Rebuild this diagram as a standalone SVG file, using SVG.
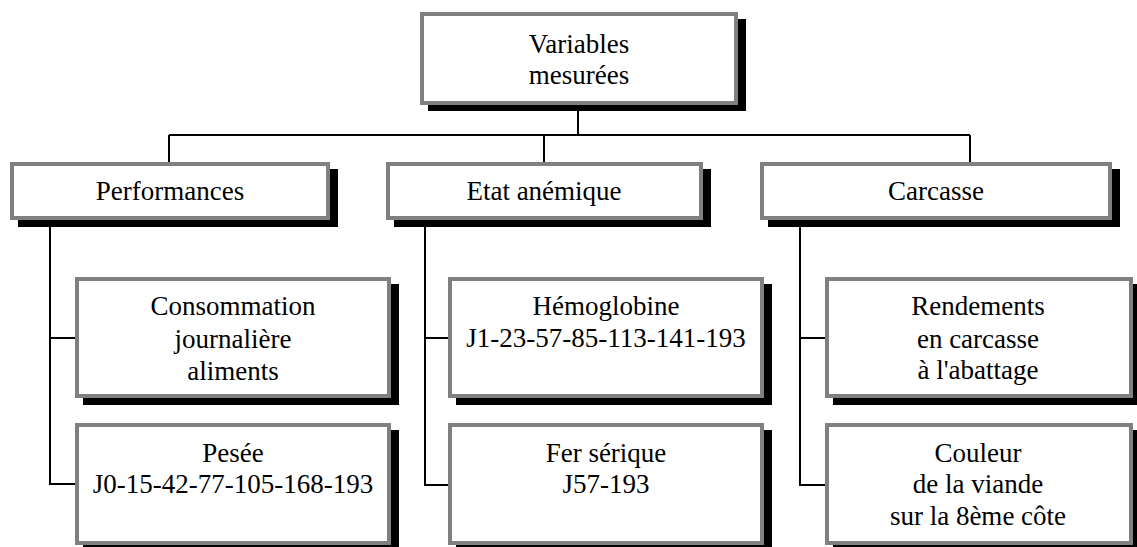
<svg xmlns="http://www.w3.org/2000/svg" width="1137" height="547" viewBox="0 0 1137 547">
<style>
.sh{fill:#000}
.bx{fill:#fff;stroke:#808080;stroke-width:4}
.t{font-family:'Liberation Serif','DejaVu Serif','Times New Roman',Times,serif;font-size:27px;fill:#000;text-anchor:middle}
.c{stroke:#000;stroke-width:2;fill:none}
</style>
<rect width="1137" height="547" fill="#fff"/>
<g id="connectors">
<path class="c" d="M578 105V135M169 135H970M169 135V162M544 135V162M970 135V162"/>
<path class="c" d="M50 226V484H75M50 338H75"/>
<path class="c" d="M425 226V485H450M425 338H450"/>
<path class="c" d="M800 226V485H825M800 338H825"/>
</g>
<g id="n-top">
<rect class="sh" x="428" y="19" width="318" height="92"/>
<rect class="bx" x="422" y="14" width="314" height="89"/>
<text class="t" font-family="Liberation Serif, serif" x="579" y="53">Variables</text>
<text class="t" font-family="Liberation Serif, serif" x="579" y="84">mesurées</text>
</g>
<g id="n-perf">
<rect class="sh" x="18" y="169" width="320" height="58"/>
<rect class="bx" x="12" y="164" width="316" height="54"/>
<text class="t" x="170" y="200">Performances</text>
</g>
<g id="n-etat">
<rect class="sh" x="394" y="169" width="317" height="58"/>
<rect class="bx" x="388" y="164" width="313" height="54"/>
<text class="t" x="544" y="200">Etat anémique</text>
</g>
<g id="n-carc">
<rect class="sh" x="768" y="169" width="352" height="58"/>
<rect class="bx" x="762" y="164" width="348" height="54"/>
<text class="t" x="936" y="200">Carcasse</text>
</g>
<g id="n-cons">
<rect class="sh" x="83" y="284" width="316" height="121"/>
<rect class="bx" x="77" y="279" width="312" height="117"/>
<text class="t" x="233" y="315">Consommation</text>
<text class="t" x="233" y="348">journalière</text>
<text class="t" x="233" y="380">aliments</text>
</g>
<g id="n-hemo">
<rect class="sh" x="456" y="284" width="316" height="121"/>
<rect class="bx" x="450" y="279" width="312" height="117"/>
<text class="t" x="606" y="315">Hémoglobine</text>
<text class="t" x="606" y="347">J1-23-57-85-113-141-193</text>
</g>
<g id="n-rend">
<rect class="sh" x="833" y="284" width="312" height="121"/>
<rect class="bx" x="827" y="279" width="304" height="117"/>
<text class="t" x="978" y="315">Rendements</text>
<text class="t" x="978" y="348">en carcasse</text>
<text class="t" x="978" y="379">à l'abattage</text>
</g>
<g id="n-pesee">
<rect class="sh" x="83" y="430" width="316" height="121"/>
<rect class="bx" x="77" y="425" width="312" height="118"/>
<text class="t" x="233" y="462">Pesée</text>
<text class="t" x="233" y="493">J0-15-42-77-105-168-193</text>
</g>
<g id="n-fer">
<rect class="sh" x="456" y="430" width="316" height="121"/>
<rect class="bx" x="450" y="425" width="312" height="118"/>
<text class="t" x="606" y="462">Fer sérique</text>
<text class="t" x="606" y="493">J57-193</text>
</g>
<g id="n-coul">
<rect class="sh" x="833" y="430" width="312" height="121"/>
<rect class="bx" x="827" y="425" width="304" height="118"/>
<text class="t" x="978" y="462">Couleur</text>
<text class="t" x="978" y="493">de la viande</text>
<text class="t" x="978" y="525">sur la 8ème côte</text>
</g>
</svg>
